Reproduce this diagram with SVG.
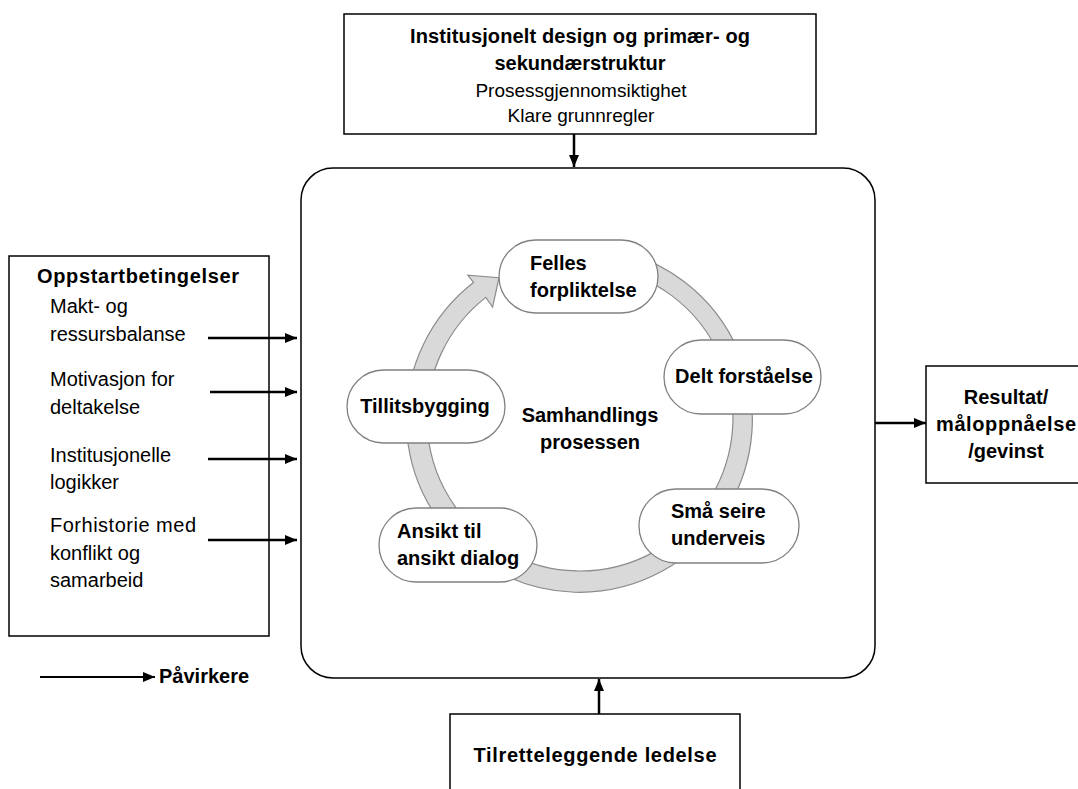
<svg xmlns="http://www.w3.org/2000/svg" width="1078" height="789" viewBox="0 0 1078 789">
<style>
  text { font-family: "Liberation Sans", Arial, sans-serif; fill: #000; }
  .b { font-weight: bold; font-size: 20px; }
  .r { font-size: 20px; }
  .r19 { font-size: 19px; }
  .mid { text-anchor: middle; }
  .box { fill: #fff; stroke: #000; stroke-width: 1.5; }
  .pill { fill: #fff; stroke: #808080; stroke-width: 1.3; }
  .ring { fill: #d9d9d9; stroke: #8c8c8c; stroke-width: 1.2; }
  .con { stroke: #000; stroke-width: 2.5; fill: none; marker-end: url(#ah); }
</style>
<defs>
  <marker id="ah" viewBox="0 0 12 10" refX="12" refY="5" markerWidth="12" markerHeight="10" markerUnits="userSpaceOnUse" orient="auto">
    <path d="M0,0 L12,5 L0,10 Z" fill="#000"/>
  </marker>
</defs>
<rect width="1078" height="789" fill="#fff"/>

<g id="main-box">
  <rect class="box" x="301" y="168" width="574" height="510" rx="32" ry="32"/>
</g>

<g id="cycle-ring">
  <path class="ring" d="M521.2,256.4 A173,173 0 1 1 473.5,282.5 L467.8,275.2 L499,277.7 L492.6,307.1 L485.8,297.4 A153,153 0 1 0 527.7,274.2 Z"/>
</g>

<g id="top-box">
  <rect class="box" x="344" y="14" width="472" height="120"/>
  <text class="b mid" x="580" y="43" textLength="340" lengthAdjust="spacing">Institusjonelt design og primær- og</text>
  <text class="b mid" x="580" y="70">sekundærstruktur</text>
  <text class="r19 mid" x="581" y="97">Prosessgjennomsiktighet</text>
  <text class="r19 mid" x="581" y="122">Klare grunnregler</text>
</g>

<g id="left-box">
  <rect class="box" x="9" y="256" width="260" height="380"/>
  <text class="b" x="37" y="283" textLength="202" lengthAdjust="spacing">Oppstartbetingelser</text>
  <text class="r" x="50" y="313">Makt- og</text>
  <text class="r" x="50" y="341">ressursbalanse</text>
  <text class="r" x="50" y="386">Motivasjon for</text>
  <text class="r" x="50" y="414">deltakelse</text>
  <text class="r" x="50" y="462">Institusjonelle</text>
  <text class="r" x="50" y="489">logikker</text>
  <text class="r" x="50" y="532" textLength="146" lengthAdjust="spacing">Forhistorie med</text>
  <text class="r" x="50" y="560">konflikt og</text>
  <text class="r" x="50" y="587">samarbeid</text>
</g>

<g id="right-box">
  <rect class="box" x="926" y="366" width="160" height="117"/>
  <text class="b mid" x="1006" y="404">Resultat/</text>
  <text class="b mid" x="1006" y="431" textLength="140" lengthAdjust="spacing">måloppnåelse</text>
  <text class="b mid" x="1006" y="458">/gevinst</text>
</g>

<g id="bottom-box">
  <rect class="box" x="450" y="714" width="290" height="90"/>
  <text class="b mid" x="595" y="762" textLength="243" lengthAdjust="spacing">Tilretteleggende ledelse</text>
</g>

<g id="node-felles">
  <rect class="pill" x="499" y="240" width="159" height="73" rx="36.5" ry="36.5"/>
  <text class="b" x="530" y="270">Felles</text>
  <text class="b" x="530" y="297">forpliktelse</text>
</g>
<g id="node-delt">
  <rect class="pill" x="664" y="340" width="157" height="74" rx="37" ry="37"/>
  <text class="b mid" x="744" y="383">Delt forståelse</text>
</g>
<g id="node-smaa">
  <rect class="pill" x="639" y="489" width="160" height="74" rx="37" ry="37"/>
  <text class="b" x="671" y="518">Små seire</text>
  <text class="b" x="671" y="545">underveis</text>
</g>
<g id="node-ansikt">
  <rect class="pill" x="379" y="508" width="158" height="74" rx="37" ry="37"/>
  <text class="b" x="397" y="538">Ansikt til</text>
  <text class="b" x="397" y="565">ansikt dialog</text>
</g>
<g id="node-tillit">
  <rect class="pill" x="347" y="370" width="158" height="73" rx="36.5" ry="36.5"/>
  <text class="b mid" x="425" y="413">Tillitsbygging</text>
</g>
<g id="center-label">
  <text class="b mid" x="590" y="422">Samhandlings</text>
  <text class="b mid" x="590" y="449">prosessen</text>
</g>

<g id="legend">
  <line x1="40" y1="677" x2="155" y2="677" stroke="#000" stroke-width="2" marker-end="url(#ah)"/>
  <text class="b" x="159" y="683">Påvirkere</text>
</g>

<g id="connectors">
  <line class="con" x1="574" y1="134" x2="574" y2="167"/>
  <line class="con" x1="599" y1="714" x2="599" y2="679"/>
  <line class="con" x1="875" y1="423" x2="926" y2="423"/>
  <line class="con" x1="208" y1="338" x2="297" y2="338"/>
  <line class="con" x1="210" y1="392" x2="297" y2="392"/>
  <line class="con" x1="208" y1="459" x2="297" y2="459"/>
  <line class="con" x1="208" y1="540" x2="297" y2="540"/>
</g>
</svg>
